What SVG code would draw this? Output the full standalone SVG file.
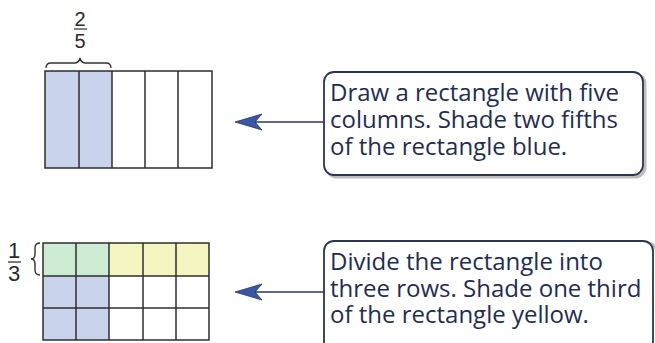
<svg xmlns="http://www.w3.org/2000/svg" width="655" height="343" viewBox="0 0 655 343">
<defs>
<style>
.grid{fill:none;stroke:#2e2e2e;stroke-width:1.5}
.frac{font-family:"Liberation Sans",Arial,sans-serif;font-size:20px;fill:#2a2a2a;text-anchor:middle}
.frac2{font-family:"Liberation Sans",Arial,sans-serif;font-size:22px;fill:#2a2a2a;text-anchor:middle}
.call{fill:#ffffff;stroke:#2b3552;stroke-width:1.8}
.shadow{fill:none;stroke:#bdbdbd;stroke-width:3}
.txt{font-family:"Open Sans","Noto Sans",sans-serif;font-size:24px;fill:#1f2d52}
.conn{stroke:#2b3460;stroke-width:1.6;fill:none}
.head{fill:#3a56a6;stroke:#2b3460;stroke-width:0.8}
</style>
</defs>
<rect width="655" height="343" fill="#ffffff"/>

<g id="top-rectangle">
<rect x="45" y="71" width="67" height="97" fill="#c9d3ec"/>
<rect x="45" y="71" width="167" height="97" class="grid"/>
<line x1="79" y1="71" x2="79" y2="168" class="grid"/>
<line x1="112" y1="71" x2="112" y2="168" class="grid"/>
<line x1="145" y1="71" x2="145" y2="168" class="grid"/>
<line x1="178" y1="71" x2="178" y2="168" class="grid"/>
<path d="M46,68 Q46,63 51,63 L74,63 Q79,63 80,58 Q81,63 86,63 L106,63 Q111,63 111,68" fill="none" stroke="#333" stroke-width="1.3"/>
<text x="80" y="26" class="frac">2</text>
<line x1="74" y1="29" x2="87" y2="29" stroke="#333" stroke-width="1.2"/>
<text x="80" y="48" class="frac">5</text>
</g>

<g id="bottom-rectangle">
<rect x="43" y="243" width="66" height="33" fill="#cdecd3"/>
<rect x="109" y="243" width="100" height="33" fill="#f5f5c2"/>
<rect x="43" y="276" width="66" height="64" fill="#c9d3ec"/>
<rect x="43" y="243" width="166" height="97" class="grid"/>
<line x1="43" y1="276" x2="209" y2="276" class="grid"/>
<line x1="43" y1="308" x2="209" y2="308" class="grid"/>
<line x1="76" y1="243" x2="76" y2="340" class="grid"/>
<line x1="109" y1="243" x2="109" y2="340" class="grid"/>
<line x1="143" y1="243" x2="143" y2="340" class="grid"/>
<line x1="176" y1="243" x2="176" y2="340" class="grid"/>
<path d="M40,243 Q35,243 35,248 L35,254 Q35,259 31,259 Q35,259 35,264 L35,270 Q35,275 40,275" fill="none" stroke="#333" stroke-width="1.4"/>
<text x="14" y="258" class="frac2">1</text>
<line x1="8" y1="262" x2="21" y2="262" stroke="#333" stroke-width="1.3"/>
<text x="14" y="281" class="frac2">3</text>
</g>

<g id="callout-1">
<rect x="327" y="74" width="318" height="103" rx="10" class="shadow"/>
<rect x="324" y="72" width="319" height="103" rx="10" class="call"/>
<text class="txt"><tspan x="330" y="101">Draw a rectangle with five</tspan><tspan x="330" y="128">columns. Shade two fifths</tspan><tspan x="330" y="155">of the rectangle blue.</tspan></text>
</g>

<g id="callout-2">
<rect x="327" y="243" width="330" height="110" rx="10" class="shadow"/>
<rect x="324" y="241" width="329" height="110" rx="10" class="call"/>
<text class="txt"><tspan x="330" y="270">Divide the rectangle into</tspan><tspan x="330" y="297">three rows. Shade one third</tspan><tspan x="330" y="323">of the rectangle yellow.</tspan></text>
</g>

<g id="connectors">
<line x1="255" y1="122" x2="324" y2="122" class="conn"/>
<path d="M235,122 L262,114 L255,122 L262,130 Z" class="head"/>
<line x1="255" y1="292" x2="324" y2="292" class="conn"/>
<path d="M235,292 L262,284 L255,292 L262,300 Z" class="head"/>
</g>
</svg>
